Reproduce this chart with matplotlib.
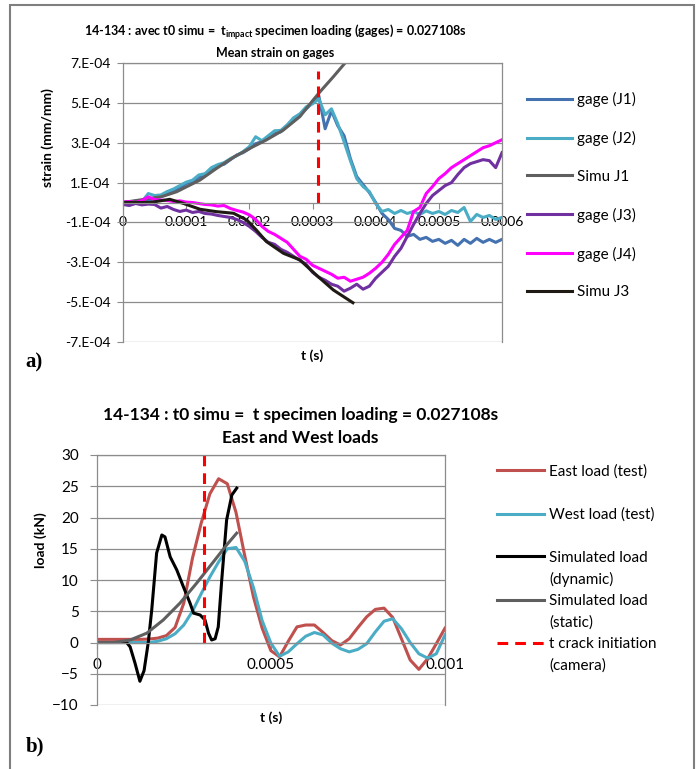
import matplotlib
matplotlib.use('Agg')
import matplotlib.pyplot as plt
import numpy as np
from matplotlib.lines import Line2D
from matplotlib.patches import Rectangle

plt.rcParams['font.family'] = ['Lato', 'DejaVu Sans']
plt.rcParams['mathtext.default'] = 'regular'

# ---------------- a) strain gages (time in 1e-4 s, strain in 1e-4 mm/mm)
t_gage = np.arange(61) * 0.1
gage_j1 = [0.00, 0.05, 0.02, 0.10, 0.08, 0.22, 0.30, 0.45, 0.58, 0.72,
           0.95, 1.05, 1.25, 1.40, 1.62, 1.85, 1.92, 2.15, 2.38, 2.50,
           2.70, 2.95, 3.05, 3.30, 3.45, 3.55, 3.85, 4.10, 4.40, 4.70,
           5.00, 5.35, 3.70, 4.60, 3.85, 3.35, 2.20, 1.30, 0.90, 0.50,
           0.00, -0.55, -0.85, -1.30, -1.40, -1.70, -1.60, -1.85, -1.75, -1.95,
           -1.85, -2.05, -1.90, -2.15, -1.85, -2.05, -1.80, -2.00, -1.85, -2.00,
           -1.85]
gage_j2 = [0.02, 0.00, 0.08, 0.05, 0.45, 0.35, 0.38, 0.55, 0.68, 0.85,
           1.02, 1.12, 1.38, 1.45, 1.75, 1.90, 2.00, 2.20, 2.35, 2.55,
           2.80, 3.30, 3.10, 3.35, 3.60, 3.62, 3.90, 4.25, 4.45, 4.80,
           4.95, 5.20, 4.40, 4.70, 3.95, 3.05, 2.10, 1.20, 0.80, 0.55,
           -0.05, -0.45, -0.35, -0.55, -0.40, -0.55, -0.45, -0.60, -0.42, -0.55,
           -0.45, -0.60, -0.40, -0.50, -0.25, -0.95, -0.60, -0.75, -0.65, -0.85,
           -0.75]
gage_j3 = [-0.10, -0.15, -0.05, -0.12, -0.08, -0.10, -0.28, -0.20, -0.35, -0.45,
           -0.38, -0.50, -0.45, -0.55, -0.58, -0.65, -0.70, -0.75, -0.85, -1.00,
           -1.20, -1.45, -1.75, -2.00, -2.10, -2.35, -2.50, -2.70, -2.90, -3.10,
           -3.50, -3.75, -3.90, -4.10, -4.20, -4.45, -4.30, -4.10, -4.35, -4.20,
           -3.80, -3.50, -3.20, -2.70, -2.30, -1.70, -1.10, -0.55, -0.05, 0.35,
           0.60, 0.85, 1.00, 1.40, 1.75, 1.95, 2.05, 2.15, 2.10, 1.75,
           2.50]
gage_j4 = [0.02, 0.05, 0.00, 0.10, 0.28, 0.15, 0.12, 0.10, 0.05, 0.08,
           0.02, 0.00, -0.05, -0.10, -0.12, -0.18, -0.15, -0.30, -0.40, -0.48,
           -0.62, -0.85, -1.20, -1.45, -1.60, -1.80, -2.00, -2.35, -2.70, -2.85,
           -3.15, -3.30, -3.45, -3.60, -3.80, -3.75, -3.95, -3.85, -3.75, -3.55,
           -3.30, -3.00, -2.60, -2.10, -1.75, -1.40, -0.45, -0.25, 0.45, 0.80,
           1.20, 1.45, 1.75, 1.95, 2.15, 2.35, 2.55, 2.75, 2.85, 3.00,
           3.15]
t_simu_j1 = [0, 0.61, 0.85, 1.22, 1.48, 1.75, 2.01, 2.27, 2.54, 2.80, 3.01, 3.12, 3.33, 3.51, 3.57]
simu_j1 = [0, 0.29, 0.54, 1.13, 1.71, 2.27, 2.72, 3.14, 3.64, 4.31, 5.14, 5.56, 6.31, 6.98, 7.18]
t_simu_j3 = [0, 0.43, 0.74, 0.95, 1.22, 1.48, 1.75, 1.96, 2.11, 2.27, 2.54, 2.80, 3.06, 3.33, 3.64]
simu_j3 = [0, 0, 0.16, -0.04, -0.34, -0.46, -0.54, -0.88, -1.38, -1.96, -2.55, -2.88, -3.64, -4.39, -5.03]
t_crack = 0.000309
crack_strain = [0, 6.6e-4]

strain_ticks = [7e-4, 5e-4, 3e-4, 1e-4, -1e-4, -3e-4, -5e-4, -7e-4]
strain_labels = ['7.E-04', '5.E-04', '3.E-04', '1.E-04', '-1.E-04', '-3.E-04', '-5.E-04', '-7.E-04']
ta_ticks = [0, 0.0001, 0.0002, 0.0003, 0.0004, 0.0005, 0.0006]
ta_labels = ['0', '0.0001', '0.0002', '0.0003', '0.0004', '0.0005', '0.0006']

# ---------------- b) loads (time in 1e-4 s, load in kN)
t_test = np.arange(41) * 0.25
east_load = [0.5, 0.5, 0.5, 0.5, 0.5, 0.5, 0.55, 0.7, 1.1, 2.4,
             6.3, 13.5, 19.1, 23.8, 26.2, 25.4, 20.8, 13.9, 7.3, 2.3,
             -1.3, -2.3, 0.2, 2.5, 2.8, 2.8, 1.6, 0.3, -0.4, 0.6,
             2.4, 4.1, 5.3, 5.5, 4.0, 0.6, -2.8, -4.3, -2.6, -0.2,
             2.3]
west_load = [0.0, 0.0, 0.0, 0.0, 0.0, 0.0, 0.0, 0.2, 0.6, 1.4,
             2.8, 5.0, 7.8, 10.5, 12.9, 15.0, 15.2, 13.0, 8.8, 3.5,
             -0.1, -2.2, -1.5, -0.2, 1.0, 1.6, 1.2, -0.1, -1.0, -1.5,
             -1.1, -0.2, 1.7, 3.4, 3.8, 2.2, 0.0, -1.8, -2.5, -1.8,
             1.2]
t_dyn = [0, 0.5, 0.86, 0.96, 1.1, 1.24, 1.36, 1.48, 1.58, 1.72, 1.87, 1.96, 2.11, 2.3,
         2.49, 2.68, 2.78, 2.97, 3.11, 3.21, 3.3, 3.4, 3.49, 3.59, 3.73, 3.88, 4.02]
sim_dynamic = [0, 0, 0, -0.7, -3.3, -6.2, -4.5, 0.0, 5.2, 14.3, 17.2, 16.9, 13.7, 11.6,
               8.9, 6.3, 4.7, 4.4, 3.6, 1.5, 0.4, 0.6, 2.5, 10.0, 19.6, 23.6, 24.7]
t_stat = [0, 0.48, 0.96, 1.44, 1.91, 2.39, 2.87, 3.35, 3.73, 4.02]
sim_static = [0, 0, 0.4, 1.5, 3.6, 6.3, 9.5, 12.9, 15.6, 17.5]
crack_load = [0, 30]

load_ticks = [30, 25, 20, 15, 10, 5, 0, -5, -10]
tb_ticks = [0, 0.0005, 0.001]
tb_labels = ['0', '0.0005', '0.001']

W, H = 697, 769
GRID = '#8C8C8C'


def box(l, t, r, b):
    return [l / W, 1 - b / H, (r - l) / W, (b - t) / H]


def style_axes(ax, fs, ylen, ypad, xlen, xpad):
    ax.yaxis.grid(True, color=GRID, lw=0.9)
    ax.set_axisbelow('line')
    for s in ['top', 'right', 'left', 'bottom']:
        ax.spines[s].set_color(GRID)
        ax.spines[s].set_linewidth(0.9)
    ax.spines['bottom'].set_position(('data', 0))
    ax.tick_params(axis='y', length=ylen, pad=ypad, color=GRID, labelsize=fs)
    ax.tick_params(axis='x', length=xlen, pad=xpad, color=GRID, labelsize=fs)


fig = plt.figure(figsize=(W / 100, H / 100), dpi=100)
fig.add_artist(Rectangle((10 / W, -0.02), 684 / W, 1.02 - 5 / H, transform=fig.transFigure,
                         fill=False, edgecolor='#7F7F7F', lw=1.5))

# ---- panel a
ax1 = fig.add_axes(box(123, 63, 502, 342))
lw = 2.2
s = 1e-4
ax1.plot(t_gage * s, np.array(gage_j1) * s, color='#4472B0', lw=lw, label='gage (J1)')
ax1.plot(t_gage * s, np.array(gage_j2) * s, color='#4BACC6', lw=lw, label='gage (J2)')
ax1.plot(np.array(t_simu_j1) * s, np.array(simu_j1) * s, color='#5F5F5F', lw=lw, label='Simu J1')
ax1.plot(t_gage * s, np.array(gage_j3) * s, color='#7030A0', lw=lw, label='gage (J3)')
ax1.plot(t_gage * s, np.array(gage_j4) * s, color='#FF00FF', lw=lw, label='gage (J4)')
ax1.plot(np.array(t_simu_j3) * s, np.array(simu_j3) * s, color='#1F1A14', lw=lw, label='Simu J3')
ax1.plot([t_crack, t_crack], crack_strain, color='red', lw=lw, dashes=(3.5, 2.3))
ax1.set_xlim(0, 0.0006)
ax1.set_ylim(-7e-4, 7e-4)
ax1.set_yticks(strain_ticks)
ax1.set_yticklabels(strain_labels)
ax1.set_xticks(ta_ticks)
ax1.set_xticklabels(ta_labels)
style_axes(ax1, 10, 4, 5, 4, 6)
ax1.set_xlabel('t (s)', fontsize=10, fontweight='bold')
ax1.xaxis.set_label_coords(0.5, -0.027)
ax1.set_ylabel('strain (mm/mm)', fontsize=10, fontweight='bold')
ax1.yaxis.set_label_coords(-0.182, 0.731)

h1, l1 = ax1.get_legend_handles_labels()
fig.legend(h1, l1, loc='upper left', bbox_to_anchor=(527 / W, 1 - 92 / H), frameon=False,
           fontsize=11, borderpad=0, borderaxespad=0, handlelength=2.95, handletextpad=0.35,
           labelspacing=1.56)

fig.text(275.7 / W, 1 - 31.7 / H,
         '14-134 : avec t0 simu =  t$_{impact}$ specimen loading (gages) = 0.027108s',
         ha='center', va='center', fontsize=9, fontweight='bold')
fig.text(275 / W, 1 - 53.3 / H, 'Mean strain on gages', ha='center', va='center',
         fontsize=9, fontweight='bold')
fig.text(34 / W, 1 - 362 / H, 'a)', ha='center', va='center', fontsize=15,
         fontweight='bold', family='Liberation Serif')

# ---- panel b
ax2 = fig.add_axes(box(96.7, 455, 445, 705))
ax2.plot(t_test * s, east_load, color='#C0504D', lw=lw, label='East load (test)')
ax2.plot(t_test * s, west_load, color='#4BACC6', lw=lw, label='West load (test)')
ax2.plot(np.array(t_dyn) * s, sim_dynamic, color='black', lw=lw, label='Simulated load')
ax2.plot(np.array(t_stat) * s, sim_static, color='#5F5F5F', lw=lw, label='Simulated load')
ax2.plot([t_crack, t_crack], crack_load, color='red', lw=lw, dashes=(3.5, 2.3),
         label='t crack initiation')
ax2.set_xlim(0, 0.001)
ax2.set_ylim(-10, 30)
ax2.set_yticks(load_ticks)
ax2.set_xticks(tb_ticks)
ax2.set_xticklabels(tb_labels)
style_axes(ax2, 11, 5, 8, 4, 7)
ax2.set_xlabel('t (s)', fontsize=10, fontweight='bold')
ax2.xaxis.set_label_coords(0.5, -0.024)
ax2.set_ylabel('load (kN)', fontsize=10, fontweight='bold')
ax2.yaxis.set_label_coords(-0.143, 0.66)

h2, _ = ax2.get_legend_handles_labels()
blank = Line2D([], [], color='none')
leg_handles = [h2[0], blank, h2[1], blank, h2[2], blank, h2[3], blank, h2[4], blank]
leg_labels = ['East load (test)', ' ', 'West load (test)', ' ', 'Simulated load', '(dynamic)',
              'Simulated load', '(static)', 't crack initiation', '(camera)']
fig.legend(leg_handles, leg_labels, loc='upper left', bbox_to_anchor=(496.7 / W, 1 - 464.5 / H),
           frameon=False, fontsize=11, borderpad=0, borderaxespad=0, handlelength=3.1,
           handletextpad=0.35, labelspacing=0.48)

fig.text(300.7 / W, 1 - 415 / H, '14-134 : t0 simu =  t specimen loading = 0.027108s',
         ha='center', va='center', fontsize=12.5, fontweight='bold')
fig.text(300 / W, 1 - 437.7 / H, 'East and West loads', ha='center', va='center',
         fontsize=12.5, fontweight='bold')
fig.text(35 / W, 1 - 746 / H, 'b)', ha='center', va='center', fontsize=15,
         fontweight='bold', family='Liberation Serif')

fig.savefig('out.png', dpi=100)
